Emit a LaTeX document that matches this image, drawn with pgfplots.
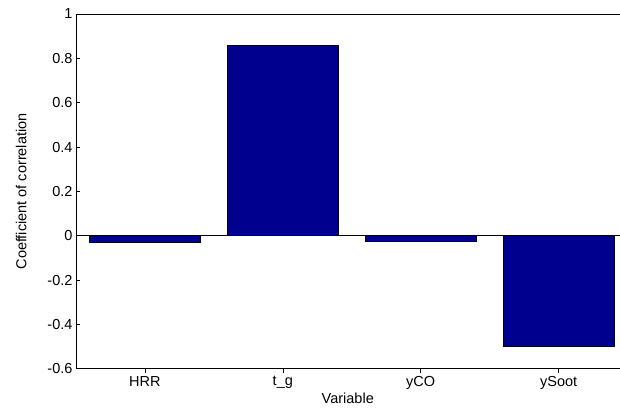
\documentclass[border=0pt]{standalone}
\usepackage{fontspec}
\setmainfont{Liberation Sans}
\usepackage{pgfplots}
\pgfplotsset{compat=1.18}
\definecolor{barblue}{RGB}{0,0,143}
\begin{document}
\begin{tikzpicture}
\begin{axis}[
  scale only axis, width=544bp, height=355bp,
  font=\fontsize{14.5bp}{17bp}\selectfont,
  xmin=0.5, xmax=4.442, ymin=-0.6, ymax=1,
  axis x line=box, axis y line=left,
  axis line style={black, line width=0.8pt, -},
  xtick={1,2,3,4}, xticklabels={HRR,t\_g,yCO,ySoot},
  ytick={-0.6,-0.4,-0.2,0,0.2,0.4,0.6,0.8,1},
  yticklabels={-0.6,-0.4,-0.2,0,0.2,0.4,0.6,0.8,1},
  xtick pos=bottom, ytick pos=left,
  tick align=inside, major tick length=4bp,
  tick style={black, line width=0.6pt},
  xlabel={Variable}, ylabel={Coefficient of correlation},
  xlabel style={yshift=3bp}, ylabel style={yshift=14bp},
  ybar, bar width=0.8, bar shift=0pt,
  clip=false,
]
\addplot[fill=barblue, draw=black, line width=0.5pt] coordinates {(1,-0.03) (2,0.86) (3,-0.025) (4,-0.5)};
\addplot[black, line width=0.6pt, sharp plot] coordinates {(0.5,0) (4.442,0)};
\end{axis}
\path (current axis.south west) ++(-76bp,-47bp) (current axis.north east) ++(0,14bp);
\end{tikzpicture}
\end{document}
